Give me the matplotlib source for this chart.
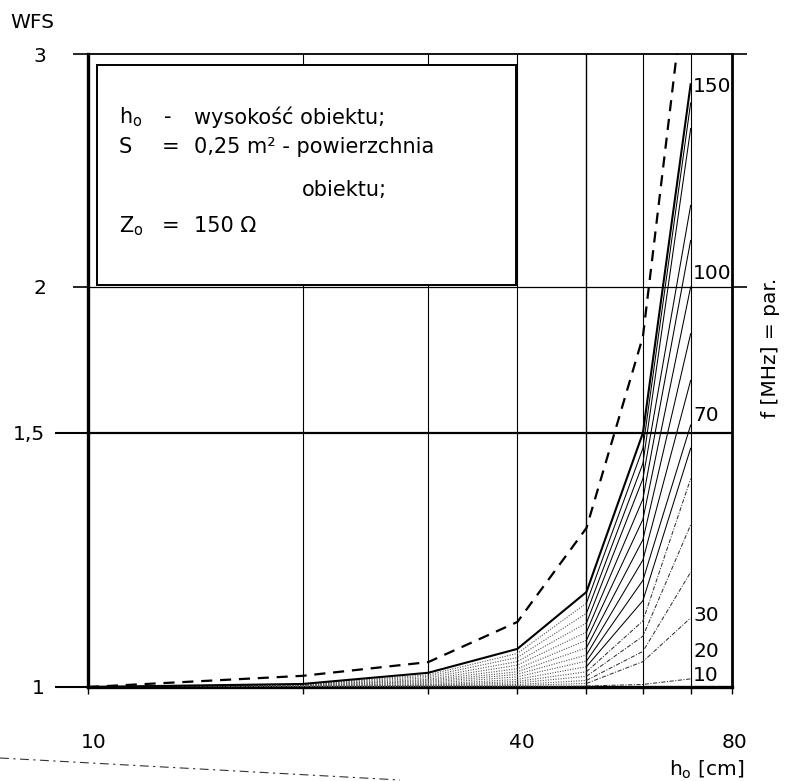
import numpy as np
import matplotlib
matplotlib.use("Agg")
import matplotlib.pyplot as plt
import matplotlib.transforms as mtransforms
from matplotlib.patches import Rectangle
from matplotlib.lines import Line2D

plt.rcParams['font.family'] = ['DejaVu Sans']
plt.rcParams['mathtext.fontset'] = 'dejavusans'

# ---------------- data ----------------
h_cm = [10, 20, 30, 40, 50, 60, 70]
freqs_mhz = [10, 20, 30, 40, 50, 60, 70, 80, 90, 100, 110, 120, 130, 140, 150]
wfs_10 = [1.0, 1.000, 1.000, 1.001, 1.002, 1.005, 1.016]
wfs_20 = [1.0, 1.000, 1.001, 1.003, 1.007, 1.050, 1.136]
wfs_30 = [1.0, 1.000, 1.002, 1.005, 1.013, 1.070, 1.226]
wfs_40 = [1.0, 1.001, 1.003, 1.008, 1.021, 1.100, 1.319]
wfs_50 = [1.0, 1.001, 1.004, 1.011, 1.030, 1.130, 1.410]
wfs_60 = [1.0, 1.001, 1.005, 1.015, 1.040, 1.170, 1.470]
wfs_70 = [1.0, 1.002, 1.007, 1.020, 1.051, 1.210, 1.527]
wfs_80 = [1.0, 1.002, 1.009, 1.025, 1.063, 1.250, 1.680]
wfs_90 = [1.0, 1.003, 1.011, 1.030, 1.077, 1.290, 1.840]
wfs_100 = [1.0, 1.003, 1.013, 1.036, 1.092, 1.330, 2.000]
wfs_110 = [1.0, 1.004, 1.015, 1.043, 1.108, 1.370, 2.200]
wfs_120 = [1.0, 1.004, 1.018, 1.050, 1.126, 1.410, 2.350]
wfs_130 = [1.0, 1.005, 1.021, 1.058, 1.145, 1.440, 2.680]
wfs_140 = [1.0, 1.005, 1.024, 1.066, 1.165, 1.470, 2.790]
wfs_150 = [1.0, 1.006, 1.028, 1.075, 1.187, 1.500, 2.870]
wfs_envelope = [1.0, 1.022, 1.049, 1.128, 1.313, 1.830, 3.500]

curves = [wfs_10, wfs_20, wfs_30, wfs_40, wfs_50, wfs_60, wfs_70, wfs_80,
          wfs_90, wfs_100, wfs_110, wfs_120, wfs_130, wfs_140, wfs_150]

y_ticks = [1, 1.5, 2, 3]
x_label_ticks = [10, 40, 80]
x_grid = [20, 30, 40, 50, 60, 70]
curve_labels = ["150", "100", "70", "30", "20", "10"]
curve_label_vals = [2.86, 2.06, 1.56, 1.14, 1.07, 1.022]

# ------------- custom (non-uniform) WFS scale -------------
Y_POS = [0.0, 254.0, 400.0, 633.0]

def fwd(v):
    v = np.asarray(v, dtype=float)
    out = np.interp(v, y_ticks, Y_POS)
    out = np.where(v > 3, 633.0 + (v - 3.0) * 233.0, out)
    out = np.where(v < 1, (v - 1.0) * 508.0, out)
    return out

def inv(p):
    p = np.asarray(p, dtype=float)
    out = np.interp(p, Y_POS, y_ticks)
    out = np.where(p > 633.0, 3.0 + (p - 633.0) / 233.0, out)
    out = np.where(p < 0.0, 1.0 + p / 508.0, out)
    return out

W, H = 786, 781
fig = plt.figure(figsize=(W / 100, H / 100), dpi=100)
ax = fig.add_axes([88 / W, (H - 687) / H, 644 / W, 633 / H])
ax.set_xscale('log')
ax.set_yscale('function', functions=(fwd, inv))
ax.set_xlim(10, 80)
ax.set_ylim(1, 3)

# grid
for xv in x_grid:
    ax.axvline(xv, color='black', lw=0.8 if xv != 50 else 1.0, zorder=1)
ax.axhline(1.5, color='black', lw=1.6, zorder=1)
ax.axhline(2.0, color='black', lw=0.9, zorder=1)

# spines
ax.spines['left'].set_linewidth(2.4)
ax.spines['bottom'].set_linewidth(2.4)
ax.spines['right'].set_linewidth(2.0)
ax.spines['top'].set_linewidth(1.3)

# curves: fine dotted part at small heights, sharper lines at large heights
split = 4  # index of h = 50 cm
for f, vals in zip(freqs_mhz, curves):
    if f == 150:
        ax.plot(h_cm, vals, color='black', lw=1.5, zorder=4)
        continue
    ax.plot(h_cm[:split + 1], vals[:split + 1], color='#555555', lw=0.8,
            ls=(0, (1, 1.3)), zorder=3)
    if f >= 60:
        ax.plot(h_cm[split:], vals[split:], color='black', lw=0.75, zorder=3)
    else:
        ax.plot(h_cm[split:], vals[split:], color='#333333', lw=0.75,
                ls=(0, (4, 1.5, 1, 1.5)), zorder=3)
ax.plot(h_cm, wfs_envelope, color='black', lw=1.6, ls=(0, (5, 3.5)), zorder=4)

# ticks
tfs = 14.5
ax.set_yticks([2, 3])
ax.set_yticklabels(["2", "3"])
ax.set_yticks([1, 1.5], minor=True)
ax.set_yticklabels(["1", "1,5"], minor=True)
ax.tick_params(axis='y', which='major', length=11, width=1.2, direction='out', pad=19,
               labelsize=tfs, right=True)
ax.tick_params(axis='y', which='minor', length=24, width=1.5, direction='out', pad=7,
               labelsize=tfs, right=False)
xt = [10] + x_grid + [80]
ax.set_xticks(xt)
ax.set_xticklabels([str(v) if v in x_label_ticks else "" for v in xt])
ax.xaxis.set_minor_locator(matplotlib.ticker.NullLocator())
ax.tick_params(axis='x', which='major', length=5, width=1.0, direction='out', pad=28,
               labelsize=tfs)
fig.canvas.draw()
shift = {"10": 6, "40": 5, "80": 2}
for lab in ax.get_xticklabels():
    t = lab.get_text()
    if t in shift:
        lab.set_transform(lab.get_transform() +
                          mtransforms.ScaledTranslation(shift[t] / 100, 0, fig.dpi_scale_trans))

# curve labels on right
for txt, v in zip(curve_labels, curve_label_vals):
    ax.text(70.6, v, txt, fontsize=tfs, ha='left', va='center', zorder=6)

# legend box
ax.add_patch(Rectangle(((97 - 88) / 644, (687 - 285) / 633), (516 - 97) / 644, (285 - 65) / 633,
                       transform=ax.transAxes, facecolor='white', edgecolor='black', lw=1.4, zorder=5))

def axpt(px, py):
    return ((px - 88) / 644, (687 - py) / 633)

fs = 15
kw = dict(transform=ax.transAxes, fontsize=fs, va='center', zorder=6)
ax.text(*axpt(119, 117), r"h$_\mathregular{o}$", **kw)
ax.text(*axpt(164, 117), "-", **kw)
ax.text(*axpt(194, 117), "wysokość obiektu;", **kw)
ax.text(*axpt(119, 147), "S", **kw)
ax.text(*axpt(162, 147), "=", **kw)
ax.text(*axpt(194, 147), "0,25 m² - powierzchnia", **kw)
ax.text(*axpt(302, 190), "obiektu;", **kw)
ax.text(*axpt(119, 226), r"Z$_\mathregular{o}$", **kw)
ax.text(*axpt(162, 226), "=", **kw)
ax.text(*axpt(194, 226), "150 Ω", **kw)

# axis titles
fig.text(10 / W, 1 - 22 / H, "WFS", fontsize=tfs, ha='left', va='center')
fig.text(707 / W, 1 - 770 / H, r"h$_\mathregular{o}$ [cm]", fontsize=tfs, ha='center', va='center')
fig.text(771 / W, 1 - 348 / H, "f [MHz] = par.", fontsize=tfs, rotation=90, ha='center', va='center')

# scan artifact line at bottom
fig.add_artist(Line2D([0, 400 / W], [1 - 758 / H, 1 - 780 / H], transform=fig.transFigure,
                      color='#333333', lw=0.8, ls=(0, (8, 4, 2, 4))))

fig.savefig("out.png", dpi=100)
